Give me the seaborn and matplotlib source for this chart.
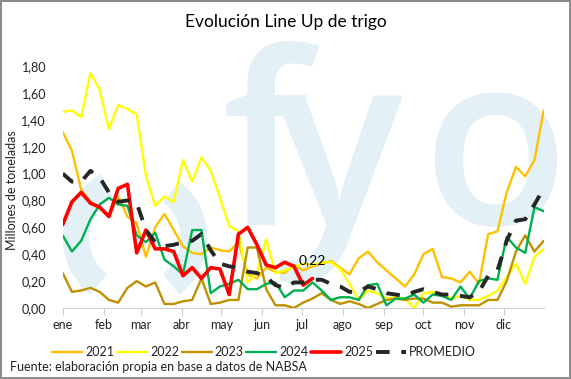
import numpy as np
import pandas as pd
import matplotlib
matplotlib.use("Agg")
import matplotlib.pyplot as plt
import seaborn as sns
from matplotlib.patches import Arc

months = ["ene", "feb", "mar", "abr", "may", "jun", "jul", "ago", "sep", "oct", "nov", "dic"]
month_start_day = [0, 31, 59, 90, 120, 151, 181, 212, 243, 273, 304, 334]

s2021 = [1.31, 1.17, 0.88, 0.79, 0.74, 0.68, 0.83, 0.68, 0.63, 0.38, 0.60, 0.70, 0.58, 0.46, 0.41, 0.40,
         0.45, 0.43, 0.42, 0.49, 0.25, 0.22, 0.30, 0.27, 0.26, 0.32, 0.28, 0.31, 0.33, 0.35, 0.30, 0.25,
         0.37, 0.42, 0.34, 0.28, 0.22, 0.16, 0.25, 0.40, 0.44, 0.23, 0.22, 0.19, 0.27, 0.18, 0.55, 0.57,
         0.86, 1.05, 0.98, 1.10, 1.47]
s2022 = [1.46, 1.47, 1.42, 1.75, 1.62, 1.33, 1.51, 1.48, 1.44, 0.98, 0.76, 0.83, 0.79, 1.10, 0.94, 1.12,
         1.02, 0.82, 0.61, 0.57, 0.19, 0.26, 0.51, 0.26, 0.28, 0.30, 0.33, 0.32, 0.34, 0.34, 0.29, 0.18,
         0.06, 0.13, 0.11, 0.07, 0.08, 0.07, 0.00, 0.11, 0.12, 0.10, 0.07, 0.09, 0.06, 0.06, 0.09, 0.13,
         0.23, 0.33, 0.18, 0.38, 0.44]
s2023 = [0.26, 0.12, 0.13, 0.15, 0.12, 0.06, 0.04, 0.15, 0.20, 0.16, 0.19, 0.03, 0.03, 0.05, 0.06, 0.22,
         0.03, 0.04, 0.06, 0.06, 0.45, 0.45, 0.14, 0.02, 0.02, 0.00, 0.04, 0.07, 0.11, 0.06, 0.03, 0.05,
         0.03, 0.00, 0.03, 0.06, 0.07, 0.06, 0.07, 0.07, 0.04, 0.04, 0.01, 0.02, 0.02, 0.02, 0.06, 0.06,
         0.20, 0.42, 0.54, 0.42, 0.50]
s2024 = [0.54, 0.42, 0.50, 0.66, 0.77, 0.82, 0.77, 0.76, 0.54, 0.49, 0.56, 0.36, 0.31, 0.25, 0.58, 0.58,
         0.11, 0.16, 0.18, 0.21, 0.14, 0.14, 0.18, 0.19, 0.08, 0.13, 0.13, 0.19, 0.13, 0.06, 0.08, 0.08,
         0.06, 0.17, 0.18, 0.02, 0.07, 0.07, 0.10, 0.04, 0.10, 0.09, 0.06, 0.16, 0.07, 0.20, 0.22, 0.21,
         0.53, 0.45, 0.41, 0.75, 0.72]
s2025 = [0.62, 0.79, 0.86, 0.78, 0.75, 0.68, 0.89, 0.92, 0.41, 0.58, 0.44, 0.44, 0.42, 0.24, 0.30, 0.22,
         0.30, 0.29, 0.10, 0.55, 0.60, 0.47, 0.32, 0.30, 0.34, 0.31, 0.17, 0.22]
promedio = [1.00, 0.94, 0.94, 1.02, 0.97, 0.86, 0.79, 0.80, 0.78, 0.58, 0.49, 0.46, 0.47, 0.49, 0.50, 0.55,
            0.43, 0.33, 0.31, 0.30, 0.27, 0.26, 0.23, 0.17, 0.15, 0.19, 0.19, 0.21, 0.21, 0.18, 0.16, 0.12,
            0.12, 0.16, 0.14, 0.11, 0.10, 0.09, 0.12, 0.14, 0.12, 0.10, 0.10, 0.09, 0.08, 0.12, 0.24, 0.28,
            0.50, 0.65, 0.66, 0.77, 0.89]

series = [("2021", s2021, "#FFC000", 1.7, None),
          ("2022", s2022, "#FFFF00", 1.7, None),
          ("2023", s2023, "#BF9000", 1.7, None),
          ("2024", s2024, "#00B050", 1.7, None),
          ("2025", s2025, "#FF0000", 2.6, None),
          ("PROMEDIO", promedio, "#262626", 2.8, (3.5, 3.0))]

sns.set_theme(style="white")
plt.rcParams["font.family"] = ["Lato", "DejaVu Sans"]

W, H = 571, 379
fig = plt.figure(figsize=(W / 100, H / 100), dpi=100)
fig.patch.set_edgecolor("#8c8c8c")
fig.patch.set_linewidth(1.5)
ax = fig.add_axes([62.7 / W, 1 - 308 / H, (543.7 - 62.7) / W, (308 - 52.6) / H])

# watermark logo (drawn behind the lines)
wm = "#E3F0F5"
for ch, px in [("f", 222), ("y", 274), ("o", 422)]:
    ax.text(px, H - 225, ch, transform=None, fontsize=172, color=wm,
            ha="left", va="baseline", zorder=0, family="Open Sans", fontweight="semibold")
for t1, t2 in [(118, 232), (-52, 52)]:
    ax.add_artist(Arc((135, H - 238), 118, 118, theta1=t1, theta2=t2, lw=19,
                      color=wm, transform=None, zorder=0))

for name, vals, col, lw, dash in series:
    days = np.arange(len(vals)) * 7
    df = pd.DataFrame({"day": days, "val": vals})
    sns.lineplot(data=df, x="day", y="val", ax=ax, color=col, lw=lw, label=name, zorder=3)
    if dash is not None:
        ax.lines[-1].set_dashes(dash)

last_x = (len(s2025) - 1) * 7
ax.annotate("0,22", (last_x, s2025[-1]), xytext=(0, 9), textcoords="offset points",
            ha="center", va="bottom", fontsize=10, color="black", zorder=5)

ax.set_xlim(0, 364)
ax.set_ylim(0, 1.9)
ax.set_xticks(month_start_day)
ax.set_xticklabels(months)
yt = np.round(np.arange(0, 1.81, 0.2), 2)
ax.set_yticks(yt)
ax.set_yticklabels([f"{v:.2f}".replace(".", ",") for v in yt])
ax.tick_params(axis="y", length=0, pad=12, labelsize=9, colors="#222222")
ax.tick_params(axis="x", length=5, width=0.8, color="#d0d0d0", pad=3, labelsize=9,
               labelcolor="#222222", bottom=True, direction="out")
ax.set_xlabel("")
ax.set_ylabel("Millones de toneladas", fontsize=9, color="#222222")
ax.yaxis.set_label_coords(-0.093, 0.46)
for s in ["top", "right", "left"]:
    ax.spines[s].set_visible(False)
ax.spines["bottom"].set_color("#d0d0d0")
ax.spines["bottom"].set_linewidth(0.8)
ax.grid(False)
ax.set_facecolor("none")

leg = ax.legend(loc="center", bbox_to_anchor=(264 / W, 1 - 352 / H), bbox_transform=fig.transFigure,
                ncol=6, frameon=False, fontsize=9, handlelength=2.4, handletextpad=0.25,
                columnspacing=0.2, borderaxespad=0)
for t in leg.get_texts():
    t.set_color("#222222")

fig.text(0.5, 1 - 22 / H, "Evolución Line Up de trigo", ha="center", va="center",
         fontsize=12.5, color="black", family=["Liberation Sans Narrow", "Lato"])
fig.text(10 / W, 1 - 367 / H, "Fuente: elaboración propia en base a datos de NABSA",
         ha="left", va="center", fontsize=9, color="#222222")

fig.savefig("out.png", dpi=100)
